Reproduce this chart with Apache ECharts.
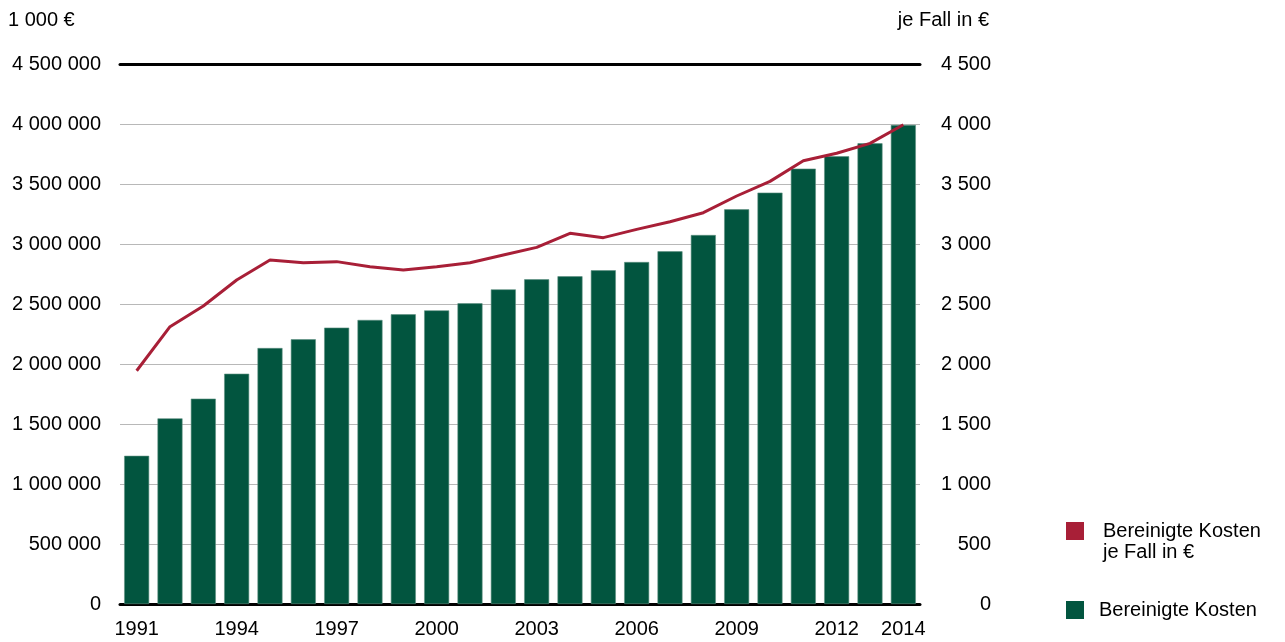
<!DOCTYPE html>
<html>
<head>
<meta charset="utf-8">
<script src="https://cdn.jsdelivr.net/npm/echarts@6/dist/echarts.min.js"></script>
<style>html,body{margin:0;padding:0;background:#fff}#c{width:1285px;height:642px}</style>
</head>
<body>
<div id="c"></div>
<script>
const years = ['1991','1992','1993','1994','1995','1996','1997','1998','1999','2000','2001','2002','2003','2004','2005','2006','2007','2008','2009','2010','2011','2012','2013','2014'];
const kosten = [1235000,1547000,1711000,1919000,2133000,2206000,2303000,2367000,2414000,2447000,2506000,2622000,2706000,2731000,2781000,2850000,2939000,3075000,3289000,3428000,3628000,3731000,3839000,3992000];
const kostenJeFall = [1944,2311,2483,2700,2867,2844,2853,2811,2783,2811,2844,2908,2972,3089,3053,3122,3186,3261,3400,3522,3694,3756,3839,3994];
const leftTicksUnit = '1 000 €';
const rightTicksUnit = 'je Fall in €';
const nameBar = 'Bereinigte Kosten';
const nameLine = 'Bereinigte Kosten je Fall in €';

const FONT = 'Liberation Sans, Arial, sans-serif';
const FS = 20;
const fmt = v => String(v).replace(/\B(?=(\d{3})+(?!\d))/g, ' ');

const chart = echarts.init(document.getElementById('c'));
chart.setOption({
  animation: false,
  textStyle: { fontFamily: FONT, color: '#000' },
  title: [
    { text: leftTicksUnit, left: 8, top: 10, padding: 0, textStyle: { fontFamily: FONT, fontSize: FS, fontWeight: 'normal', color: '#000' } },
    { text: rightTicksUnit, right: 296, top: 10, padding: 0, textStyle: { fontFamily: FONT, fontSize: FS, fontWeight: 'normal', color: '#000' } }
  ],
  legend: [
    {
      data: [{ name: nameLine, icon: 'path://M0 0h18v18h-18z M0 40h0.01v0.01h-0.01z' }],
      left: 1066, top: 521, padding: 0, itemWidth: 18, itemHeight: 40,
      formatter: () => 'Bereinigte Kosten\nje Fall in €',
      itemStyle: { borderWidth: 0 },
      textStyle: { fontFamily: FONT, fontSize: FS, color: '#000', lineHeight: 21, padding: [0, 0, 0, 14] },
      selectedMode: false
    },
    {
      data: [{ name: nameBar, icon: 'rect' }],
      left: 1066, top: 600, padding: 0, itemWidth: 18, itemHeight: 18,
      itemStyle: { borderWidth: 0 },
      textStyle: { fontFamily: FONT, fontSize: FS, color: '#000', padding: [0, 0, 0, 10] },
      selectedMode: false
    }
  ],
  grid: { left: 120, right: 365, top: 64, bottom: 38, containLabel: false },
  xAxis: [
    {
      type: 'category', data: years, position: 'bottom',
      axisLine: { onZero: false, lineStyle: { color: '#000', width: 3 } },
      axisTick: { show: false },
      axisLabel: {
        interval: (i) => i % 3 === 0 || i === years.length - 1,
        fontFamily: FONT, fontSize: FS, color: '#000', margin: 15
      }
    },
    {
      type: 'category', data: years, position: 'top',
      axisLine: { show: true, onZero: false, lineStyle: { color: '#000', width: 3 } },
      axisTick: { show: false }, axisLabel: { show: false }, splitLine: { show: false }
    }
  ],
  yAxis: [
    {
      type: 'value', min: 0, max: 4500000, interval: 500000,
      axisLine: { show: false }, axisTick: { show: false },
      axisLabel: { formatter: fmt, fontFamily: FONT, fontSize: FS, color: '#000', margin: 19 },
      splitLine: { lineStyle: { color: '#b8b8b8', width: 1 } }
    },
    {
      type: 'value', min: 0, max: 4500, interval: 500, position: 'right',
      axisLine: { show: false }, axisTick: { show: false },
      axisLabel: { formatter: fmt, fontFamily: FONT, fontSize: FS, color: '#000', margin: 71, align: 'right' },
      splitLine: { show: false }
    }
  ],
  series: [
    {
      name: nameBar, type: 'bar', data: kosten, xAxisIndex: 0, yAxisIndex: 0,
      barWidth: 25,
      itemStyle: { color: '#02553f', borderColor: '#5d8f80', borderWidth: 0.6 }
    },
    {
      name: nameLine, type: 'line', data: kostenJeFall, xAxisIndex: 0, yAxisIndex: 1,
      showSymbol: false, symbol: 'none',
      lineStyle: { color: '#a81f37', width: 3 },
      itemStyle: { color: '#a81f37' }
    }
  ]
});
</script>
</body>
</html>
